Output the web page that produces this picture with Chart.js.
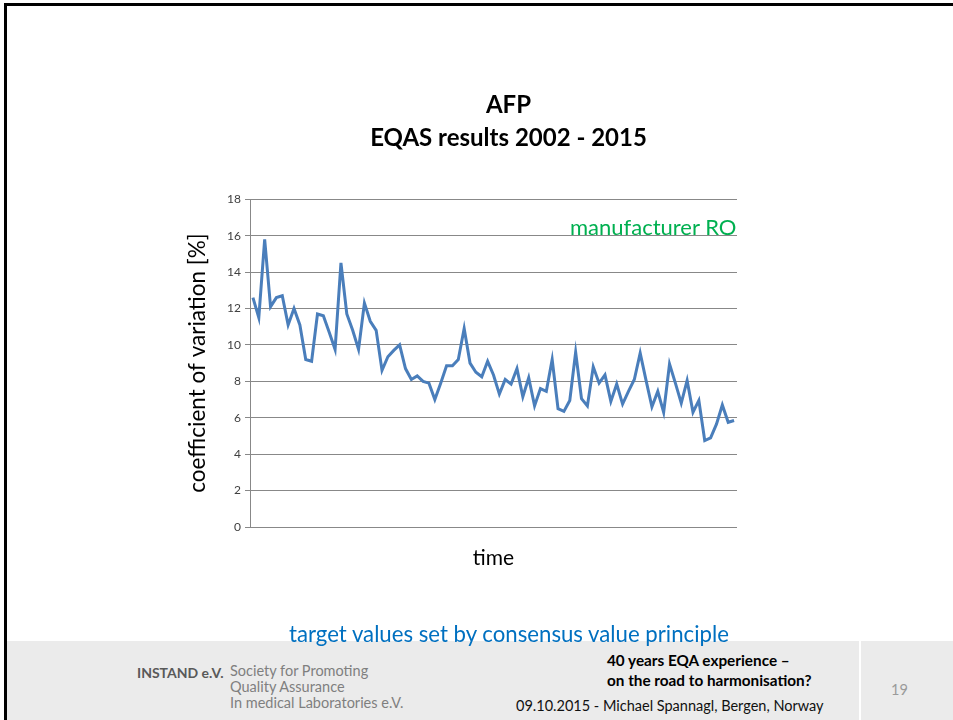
<!DOCTYPE html>
<html>
<head>
<meta charset="utf-8">
<script src="https://cdn.jsdelivr.net/npm/chart.js@4"></script>
<style>
    body { margin: 0; background: #fff; font-family: Lato, "Open Sans", sans-serif; }
    #slide { position: relative; width: 953px; height: 720px; overflow: hidden; }
    #chartBox { position: absolute; left: 0; top: 0; width: 953px; height: 640px; }
    .topLine { position: absolute; left: 4px; top: 3px; width: 949px; height: 3px; background: #000; }
    .leftLine { position: absolute; left: 4px; top: 3px; width: 3px; height: 717px; background: #000; }
    .note { position: absolute; white-space: nowrap; font-size: 22px; }
    #footer { position: absolute; left: 7px; top: 641px; width: 946px; height: 79px; background: #ebebeb; }
    #divider { position: absolute; left: 859px; top: 641px; width: 2px; height: 79px; background: #fff; }
    .ft { position: absolute; white-space: nowrap; font-size: 14.5px; }
</style>
</head>
<body>
<div id="slide">
    <div id="chartBox"><canvas id="cvChart" width="953" height="640"></canvas></div>
    <div class="note" style="left:570px; top:213px; color:#00b050;">manufacturer RO</div>
    <div id="footer"></div>
    <div id="divider"></div>
    <div class="note" style="left:289px; top:620px; color:#0070c0; font-size:22.2px;">target values set by consensus value principle</div>
    <div class="ft" style="left:137px; top:664px; font-weight:bold; color:#595959; font-size:14px;">INSTAND e.V.</div>
    <div class="ft" style="left:230px; top:663px; color:#7f7f7f; line-height:16px;">Society for Promoting<br>Quality Assurance<br>In medical Laboratories e.V.</div>
    <div class="ft" style="left:607px; top:650px; font-weight:bold; color:#000; font-size:15.3px; line-height:20px;">40 years EQA experience –<br>on the road to harmonisation?</div>
    <div class="ft" style="left:516px; top:697px; color:#111;">09.10.2015 - Michael Spannagl, Bergen, Norway</div>
    <div class="ft" style="left:891px; top:681px; color:#9a9a9a;">19</div>
    <div class="topLine"></div>
    <div class="leftLine"></div>
</div>
<script>
// CV values, one per survey (2002 - 2015)
const cvValues = [
    12.6, 11.5, 15.8, 12.1, 12.6, 12.7, 11.1, 12.0, 11.1, 9.2,
    9.1, 11.7, 11.6, 10.7, 9.75, 14.5, 11.7, 10.8, 9.75, 12.3,
    11.3, 10.8, 8.6, 9.35, 9.7, 10.0, 8.7, 8.1, 8.3, 8.0,
    7.9, 7.0, 7.9, 8.85, 8.85, 9.2, 10.9, 9.0, 8.5, 8.25,
    9.1, 8.35, 7.3, 8.1, 7.85, 8.7, 7.15, 8.2, 6.65, 7.6,
    7.45, 9.2, 6.5, 6.35, 6.95, 9.6, 7.05, 6.65, 8.8, 7.9,
    8.35, 6.9, 7.85, 6.75, 7.45, 8.1, 9.55, 8.05, 6.6, 7.45,
    6.3, 8.95, 7.9, 6.8, 8.05, 6.3, 6.95, 4.75, 4.9, 5.65,
    6.7, 5.75, 5.85
];
const surveys = cvValues.map((v, i) => String(i + 1));
const yTicks = [0, 2, 4, 6, 8, 10, 12, 14, 16, 18];
const titleLines = ["AFP", "EQAS results 2002 - 2015"];

const gridColor = "#888888";

new Chart(document.getElementById("cvChart"), {
    type: "line",
    data: {
        labels: surveys,
        datasets: [{
            data: cvValues,
            borderColor: "#4a7ebb",
            borderWidth: 3,
            pointRadius: 0,
            tension: 0,
            fill: false
        }]
    },
    options: {
        responsive: false,
        animation: false,
        // right padding + empty spacer axis keep the title centred like the slide
        layout: { padding: { left: 180, right: 116, top: 0, bottom: 69 } },
        plugins: {
            legend: { display: false },
            tooltip: { enabled: false },
            title: {
                display: true,
                text: titleLines,
                color: "#000",
                font: { family: "Lato", size: 24, weight: "bold", lineHeight: 1.38 },
                padding: { top: 89, bottom: 44 }
            }
        },
        scales: {
            x: {
                offset: true,
                ticks: { display: false },
                grid: { display: false, drawTicks: false },
                border: { display: false },
                title: {
                    display: true,
                    text: "time",
                    color: "#000",
                    font: { family: "Lato", size: 21 },
                    padding: 0
                },
                afterFit: (s) => { s.height = 44; }
            },
            y: {
                min: 0,
                max: 18,
                afterBuildTicks: (s) => { s.ticks = yTicks.map((v) => ({ value: v })); },
                ticks: {
                    color: "#404040",
                    font: { family: "Lato", size: 12 },
                    padding: 4
                },
                grid: { color: gridColor, lineWidth: 1, tickLength: 5 },
                border: { color: gridColor, width: 1 },
                title: {
                    display: true,
                    text: "coefficient of variation [%]",
                    color: "#000",
                    font: { family: "Lato", size: 22.5 },
                    padding: { top: 4, bottom: 0 }
                },
                afterFit: (s) => { s.width = 70; }
            },
            spacer: {
                type: "linear",
                position: "right",
                ticks: { display: false },
                grid: { display: false, drawTicks: false },
                border: { display: false },
                afterFit: (s) => { s.width = 100; }
            }
        }
    }
});
</script>
</body>
</html>
